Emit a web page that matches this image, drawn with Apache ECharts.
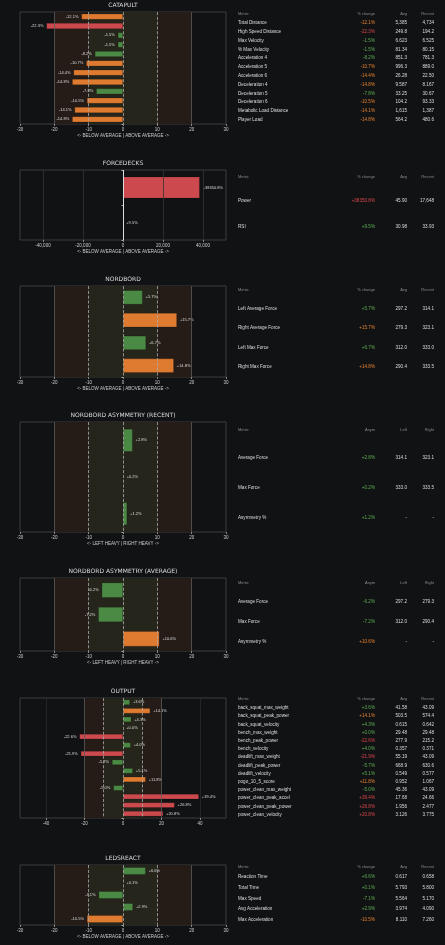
<!DOCTYPE html>
<html><head><meta charset="utf-8">
<script src="https://cdn.jsdelivr.net/npm/echarts@6/dist/echarts.min.js"></script>
<style>html,body{margin:0;padding:0;background:#111214;}#c{width:445px;height:945px;}</style>
</head><body><div id="c"></div>
<script>
// ---------- DATA ----------
const catapultMetrics = ["Total Distance","High Speed Distance","Max Velocity","% Max Velocity","Acceleration 4","Acceleration 5","Acceleration 6","Deceleration 4","Deceleration 5","Deceleration 6","Metabolic Load Distance","Player Load"];
const catapultChange = [-12.1,-22.3,-1.5,-1.5,-8.2,-10.7,-14.4,-14.8,-7.8,-10.5,-14.1,-14.8];
const catapultAvg = ["5,385","249.8","6.623","81.34","851.3","996.3","26.28","9.587","33.25","104.2","1,615","564.2"];
const catapultRecent = ["4,734","194.2","6.525","80.15","781.3","889.0","22.50","8.167","30.67","93.33","1,387","480.6"];

const forceMetrics = ["Power","RSI"];
const forceChange = [38350.8,9.5];
const forceAvg = ["45.90","30.98"];
const forceRecent = ["17,648","33.93"];

const nordMetrics = ["Left Average Force","Right Average Force","Left Max Force","Right Max Force"];
const nordChange = [5.7,15.7,6.7,14.8];
const nordAvg = ["297.2","279.3","312.0","290.4"];
const nordRecent = ["314.1","323.1","333.0","333.5"];

const asymRecMetrics = ["Average Force","Max Force","Asymmetry %"];
const asymRec = [2.8,0.2,1.2];
const asymRecLeft = ["314.1","333.0","-"];
const asymRecRight = ["323.1","333.5","-"];

const asymAvgMetrics = ["Average Force","Max Force","Asymmetry %"];
const asymAvg = [-6.2,-7.2,10.6];
const asymAvgLeft = ["297.2","312.0","-"];
const asymAvgRight = ["279.3","290.4","-"];

const outputMetrics = ["back_squat_max_weight","back_squat_peak_power","back_squat_velocity","bench_max_weight","bench_peak_power","bench_velocity","deadlift_max_weight","deadlift_peak_power","deadlift_velocity","pogo_10_5_score","power_clean_max_weight","power_clean_peak_accel","power_clean_peak_power","power_clean_velocity"];
const outputChange = [3.6,14.1,4.3,0.0,-22.6,4.0,-21.9,-5.7,5.1,11.8,-5.0,39.4,26.8,20.8];
const outputAvg = ["41.58","503.5","0.615","29.48","277.9","0.357","55.19","668.9","0.549","0.952","45.36","17.68","1.956","3.126"];
const outputRecent = ["43.09","574.4","0.642","29.48","215.2","0.371","43.09","630.6","0.577","1.067","43.09","24.66","2.477","3.775"];

const ledsMetrics = ["Reaction Time","Total Time","Max Speed","Avg Acceleration","Max Acceleration"];
const ledsChange = [6.6,0.1,-7.1,2.9,-10.5];
const ledsAvg = ["0.617","5.793","5.564","3.974","8.110"];
const ledsRecent = ["0.658","5.800","5.170","4.090","7.260"];

// ---------- LAYOUT ----------
const GREEN='#4b8a45', ORANGE='#df7b31', RED='#cc4a4d';
const TGREEN='#5fae52', TORANGE='#e4812f', TRED='#d9474a';
function barColor(v){const a=Math.abs(v);return a>20?RED:(a>10?ORANGE:GREEN);}
function txtColor(v){const a=Math.abs(v);return a>20?TRED:(a>10?TORANGE:TGREEN);}
function fmt(v){return (v>=0?'+':'')+v.toFixed(1)+'%';}

const panels = [
 {title:'CATAPULT',top:12,h:112,names:catapultMetrics,vals:catapultChange,c2:catapultAvg,c3:catapultRecent,hdr:['Metric','% change','Avg','Recent'],axisName:'<- BELOW AVERAGE | ABOVE AVERAGE ->',range:30,bands:true,tbl:{hy:14,y0:23,step:8.8}},
 {title:'FORCEDECKS',top:170,h:70,names:forceMetrics,vals:forceChange,c2:forceAvg,c3:forceRecent,hdr:['Metric','% change','Avg','Recent'],axisName:'<- BELOW AVERAGE | ABOVE AVERAGE ->',range:51500,bands:false,ticks:[-40000,-20000,0,20000,40000],tbl:{hy:177,y0:201,step:26}},
 {title:'NORDBORD',top:286,h:91,names:nordMetrics,vals:nordChange,c2:nordAvg,c3:nordRecent,hdr:['Metric','% change','Avg','Recent'],axisName:'<- BELOW AVERAGE | ABOVE AVERAGE ->',range:30,bands:true,tbl:{hy:290,y0:309,step:19.2}},
 {title:'NORDBORD ASYMMETRY (RECENT)',top:422,h:110,names:asymRecMetrics,vals:asymRec,c2:asymRecLeft,c3:asymRecRight,hdr:['Metric','Asym','Left','Right'],axisName:'<- LEFT HEAVY | RIGHT HEAVY ->',range:30,bands:true,tbl:{hy:430,y0:458,step:29.7}},
 {title:'NORDBORD ASYMMETRY (AVERAGE)',top:578,h:73,names:asymAvgMetrics,vals:asymAvg,c2:asymAvgLeft,c3:asymAvgRight,hdr:['Metric','Asym','Left','Right'],axisName:'<- LEFT HEAVY | RIGHT HEAVY ->',range:30,bands:true,tbl:{hy:583,y0:602,step:19.8}},
 {title:'OUTPUT',top:698,h:120,names:outputMetrics,vals:outputChange,c2:outputAvg,c3:outputRecent,hdr:['Metric','% change','Avg','Recent'],axisName:'',range:53.5,bands:true,ticks:[-40,-20,0,20,40],tbl:{hy:699,y0:708,step:8.2}},
 {title:'LEDSREACT',top:865,h:60,names:ledsMetrics,vals:ledsChange,c2:ledsAvg,c3:ledsRecent,hdr:['Metric','% change','Avg','Recent'],axisName:'<- BELOW AVERAGE | ABOVE AVERAGE ->',range:30,bands:true,tbl:{hy:867,y0:877,step:10.7}}
];

const option={backgroundColor:'#111214',animation:false,title:[],grid:[],xAxis:[],yAxis:[],series:[],graphic:[]};
const GL=20, GW=206;
panels.forEach((p,i)=>{
  option.title.push({text:p.title,left:GL+GW/2,top:p.top-10,padding:0,textAlign:'center',textStyle:{color:'#dddddd',fontSize:6,lineHeight:7,fontWeight:'normal',fontFamily:'DejaVu Sans'}});
  option.grid.push({left:GL,width:GW,top:p.top,height:p.h,show:true,borderColor:'#3c3c3c',borderWidth:1,backgroundColor:'#111214'});
  const xa={gridIndex:i,type:'value',min:-p.range,max:p.range,
    name:p.axisName,nameLocation:'middle',nameGap:9,nameTextStyle:{color:'#cccccc',fontSize:4.5},
    axisLine:{show:false},axisTick:{show:true,length:2,lineStyle:{color:'#888'}},
    axisLabel:{color:'#cccccc',fontSize:4.5,margin:3},splitLine:{show:false}};
  if(p.ticks){xa.axisLabel.customValues=p.ticks;xa.axisTick.customValues=p.ticks;}
  else {xa.interval=10;}
  option.xAxis.push(xa);
  option.yAxis.push({gridIndex:i,type:'category',inverse:true,data:p.names,axisLine:{show:false},axisLabel:{show:false},axisTick:{show:true,length:1.5,lineStyle:{color:'#aaa'}},splitLine:{show:false}});
  let lines, areas=[];
  if(p.bands){
    areas=[[{xAxis:-20,itemStyle:{color:'#251c18'}},{xAxis:-10}],[{xAxis:-10,itemStyle:{color:'#26251b'}},{xAxis:10}],[{xAxis:10,itemStyle:{color:'#251c18'}},{xAxis:20}]];
    lines=[{xAxis:-20,lineStyle:{type:'solid',color:'#5a5a5a'}},{xAxis:20,lineStyle:{type:'solid',color:'#5a5a5a'}},
           {xAxis:-10,lineStyle:{type:'dashed',color:'#aaaaaa'}},{xAxis:10,lineStyle:{type:'dashed',color:'#aaaaaa'}},{xAxis:0,lineStyle:{type:'dashed',color:'#aaaaaa'}}];
    if(p.title==='OUTPUT'){lines.push({xAxis:-40,lineStyle:{type:'solid',color:'#2a2a2a'}},{xAxis:40,lineStyle:{type:'solid',color:'#2a2a2a'}});}
  } else {
    lines=[-40000,-20000,20000,40000].map(v=>({xAxis:v,lineStyle:{type:'solid',color:'#333'}}));
    lines.push({xAxis:0,lineStyle:{type:'solid',color:'#dddddd',width:1}});
  }
  option.series.push({type:'bar',xAxisIndex:i,yAxisIndex:i,barCategoryGap:'38%',
    data:p.vals.map(v=>({value:v,itemStyle:{color:barColor(v),borderColor:'rgba(0,0,0,0.35)',borderWidth:0.5},
      label:{show:true,position:v<0?'left':'right',distance:3,color:'#dddddd',fontSize:4,formatter:fmt(v)}})),
    markArea:{silent:true,data:areas},
    markLine:{silent:true,symbol:'none',label:{show:false},lineStyle:{width:0.8},data:lines},z:3});
  const t=p.tbl, cols=[238,375,407,434];
  p.hdr.forEach((h,k)=>option.graphic.push({type:'text',x:cols[k],y:t.hy,style:{text:h,fill:'#8a8a8a',fontSize:4,align:k?'right':'left',verticalAlign:'middle'}}));
  p.names.forEach((n,r)=>{
    const y=t.y0+r*t.step, v=p.vals[r];
    option.graphic.push({type:'text',x:cols[0],y:y,style:{text:n,fill:'#dddddd',fontSize:4.6,align:'left',verticalAlign:'middle'}});
    option.graphic.push({type:'text',x:cols[1],y:y,style:{text:fmt(v),fill:txtColor(v),fontSize:4.6,align:'right',verticalAlign:'middle'}});
    option.graphic.push({type:'text',x:cols[2],y:y,style:{text:p.c2[r],fill:'#dddddd',fontSize:4.6,align:'right',verticalAlign:'middle'}});
    option.graphic.push({type:'text',x:cols[3],y:y,style:{text:p.c3[r],fill:'#dddddd',fontSize:4.6,align:'right',verticalAlign:'middle'}});
  });
});
const chart=echarts.init(document.getElementById('c'),null,{renderer:'canvas'});
chart.setOption(option);
</script></body></html>
